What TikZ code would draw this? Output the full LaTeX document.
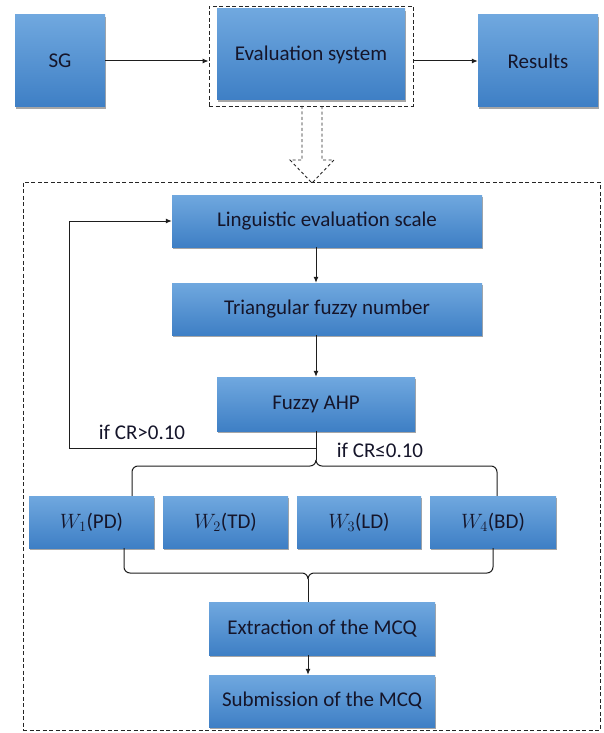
\documentclass[tikz,border=0pt]{standalone}
\usepackage{fontspec}
\setmainfont{Carlito}
\usetikzlibrary{arrows.meta,shadows}
\definecolor{boxtop}{HTML}{70A8DF}
\definecolor{boxbot}{HTML}{3E7FC5}
\definecolor{txt}{HTML}{15152A}
\definecolor{ln}{HTML}{1E1E1E}
\begin{document}
\begin{tikzpicture}[x=1pt,y=-1pt,
  box/.style={rectangle, top color=boxtop, bottom color=boxbot, draw=none, text=txt,
    font=\fontsize{21}{24}\selectfont, inner sep=0pt,
    drop shadow={shadow xshift=1.2pt,shadow yshift=-1.8pt,opacity=0.35,fill=black}},
  conn/.style={draw=ln, line width=1pt},
  arr/.style={conn, -{Latex[length=6pt,width=5pt]}},
  dashframe/.style={draw=black!85, line width=0.9pt, dash pattern=on 4pt off 2.5pt, inner sep=0pt},
  lbl/.style={text=txt, font=\fontsize{21}{24}\selectfont, inner sep=0pt}]
\useasboundingbox (0,0) rectangle (603,733);
\fill[white] (0,0) rectangle (603,733);

% top row
\node[box, minimum width=90pt, minimum height=92pt] (sg) at (60,61) {SG};
\node[box, minimum width=188pt, minimum height=91pt] (eval) at (311,54.5) {Evaluation system};
\node[box, minimum width=120pt, minimum height=92pt] (res) at (538,61) {Results};
\node[dashframe, minimum width=204pt, minimum height=100pt] (evalframe) at (311,56) {};
\draw[arr] (sg.east) -- (sg.east -| evalframe.west);
\draw[arr] (evalframe.east |- res.west) -- (res.west);

% outer dashed frame
\node[dashframe, minimum width=577pt, minimum height=548pt] (outer) at (311.5,456) {};

% hollow dashed arrow
\draw[dashframe, dash pattern=on 3pt off 2.5pt, line join=miter]
  (302,106) -- (302,160) -- (290,160) -- (312,183) -- (334,160) -- (322,160) -- (322,106);

% inner chain
\node[box, minimum width=310pt, minimum height=52pt] (ling) at (327,221) {Linguistic evaluation scale};
\node[box, minimum width=310pt, minimum height=52pt] (tri) at (327,309) {Triangular fuzzy number};
\node[box, minimum width=198pt, minimum height=54pt] (fuzzy) at (316,404) {Fuzzy AHP};
\draw[arr] (ling.south -| fuzzy.north) -- (tri.north -| fuzzy.north);
\draw[arr] (tri.south -| fuzzy.north) -- (fuzzy.north);

% weight boxes
\node[box, minimum width=125pt, minimum height=52pt] (w1) at (91.5,522) {$W_1$(PD)};
\node[box, minimum width=125pt, minimum height=52pt] (w2) at (225.5,522) {$W_2$(TD)};
\node[box, minimum width=124pt, minimum height=52pt] (w3) at (359,522) {$W_3$(LD)};
\node[box, minimum width=126pt, minimum height=52pt] (w4) at (493,522) {$W_4$(BD)};

% lower chain
\node[box, minimum width=226pt, minimum height=53pt] (extr) at (322,628.5) {Extraction of the MCQ};
\node[box, minimum width=226pt, minimum height=52pt] (sub) at (322,701) {Submission of the MCQ};
\draw[arr] (extr.south -| 308,0) -- (sub.north -| 308,0);

% upper brace
\coordinate (split) at (316,448);
\coordinate (cuspU) at (316,460);
\draw[conn] (fuzzy.south) -- (cuspU);
\draw[conn] (cuspU) to[out=-90,in=0] (310,466) -- (138,466) to[out=180,in=90] (132,472) -- (w1.north -| 132,0);
\draw[conn] (cuspU) to[out=-90,in=180] (322,466) -- (491,466) to[out=0,in=90] (497,472) -- (w4.north -| 497,0);

% feedback loop
\draw[arr] (split) -- (69,448) |- (ling.west);
\node[lbl] (gt) at (142,432) {if CR>0.10};
\node[lbl] (le) at (380,450) {if CR≤0.10};

% lower brace
\coordinate (cuspL) at (308,579);
\draw[conn] (w1.south -| 124,0) -- (124,567) to[out=-90,in=180] (130,573) -- (302,573) to[out=0,in=90] (cuspL);
\draw[conn] (w4.south -| 493,0) -- (493,567) to[out=-90,in=0] (487,573) -- (314,573) to[out=180,in=90] (cuspL);
\draw[conn] (cuspL) -- (extr.north -| cuspL);
\end{tikzpicture}
\end{document}
